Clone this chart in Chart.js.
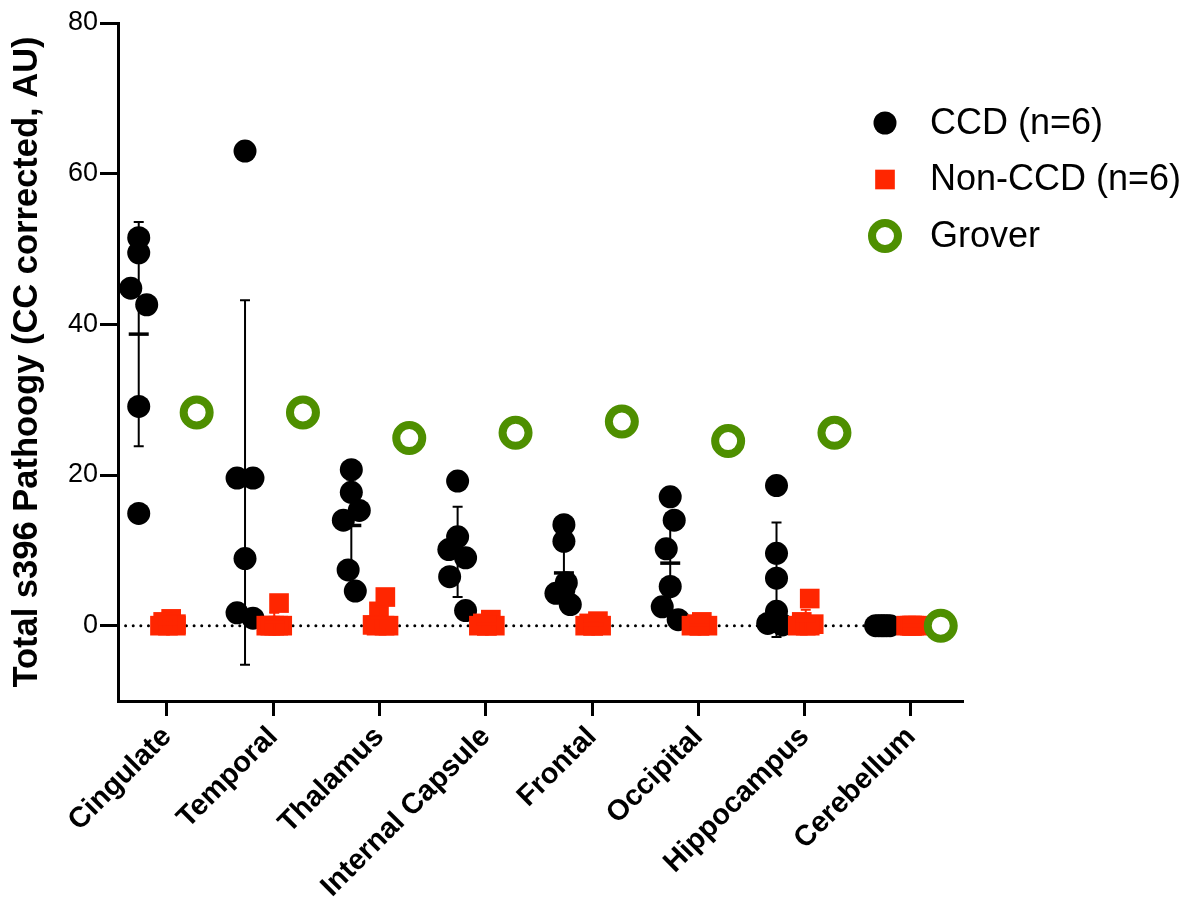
<!DOCTYPE html>
<html>
<head>
<meta charset="utf-8">
<script src="https://cdn.jsdelivr.net/npm/chart.js@4.4.1/dist/chart.umd.min.js"></script>
<style>
html,body{margin:0;padding:0;background:#fff;}
#wrap{width:1189px;height:900px;}
</style>
</head>
<body>
<div id="wrap"><canvas id="c" width="1189" height="900"></canvas></div>
<script>
// ---------------- DATA ----------------
const categories = ['Cingulate', 'Temporal', 'Thalamus', 'Internal Capsule', 'Frontal', 'Occipital', 'Hippocampus', 'Cerebellum'];

// CCD (n=6) individual values per region
const ccdValues = [
  [51.5, 49.5, 44.8, 42.6, 29.1, 14.9],
  [63.0, 19.6, 19.6, 8.9, 1.7, 1.0],
  [20.7, 17.7, 15.3, 14.0, 7.4, 4.6],
  [19.2, 11.8, 10.1, 9.0, 6.5, 2.0],
  [13.4, 11.2, 5.7, 4.8, 4.3, 2.8],
  [17.1, 14.0, 10.2, 5.2, 2.5, 0.8],
  [18.6, 9.6, 6.3, 1.9, 0.3, 0.1],
  [0, 0, 0, 0, 0, 0]
];
// CCD mean and SD (error bars) as drawn
const ccdMean = [38.7, 19.0, 13.3, 9.8, 7.0, 8.3, 6.1, 0];
const ccdSD   = [14.9, 24.2, 6.1, 6.0, 4.3, 6.6, 7.6, 0];

// Non-CCD (n=6) individual values per region
const nonValues = [
  [0.9, 0.5, 0.2, 0, 0, 0],
  [3.0, 0, 0, 0, 0, 0],
  [3.8, 1.9, 0.1, 0, 0, 0],
  [0.8, 0.3, 0, 0, 0, 0],
  [0.6, 0.3, 0, 0, 0, 0],
  [0.5, 0.2, 0, 0, 0, 0],
  [3.6, 0.5, 0.2, 0, 0, 0],
  [0, 0, 0, 0, 0, 0]
];
const nonMean = [0.3, 0.5, 1.0, 0.2, 0.15, 0.1, 0.7, 0];
const nonSD   = [0.4, 1.2, 1.5, 0.3, 0.25, 0.2, 1.4, 0];

// Grover (single case)
const groverValues = [28.3, 28.3, 24.9, 25.6, 27.1, 24.5, 25.6, 0];

const yTicks = [0, 20, 40, 60, 80];

// ---------------- LAYOUT (scatter arrangement, not data) ----------------
// horizontal spread slots of the dots inside each group (units of JITTER_STEP)
const ccdSlots = [
  [0, 0, -1, 1, 0, 0],
  [0, -1, 1, 0, -1, 1],
  [0, 0, 1, -1, -0.4, 0.5],
  [0, 0, -1.1, 1, -1, 1],
  [0, 0, 0.3, 0, -1, 0.8],
  [0, 0.5, -0.5, 0, -1, 1],
  [0, 0, 0, 0, -1.1, 0.75],
  [-0.9, -0.5, -0.15, 0.15, 0.5, 0.9]
];
const nonSlots = [
  [0.4, -0.6, 1, -1, 1, 0],
  [0.6, -1, 1, -0.5, 0.5, 0],
  [0.6, -0.2, -1, 1, -0.5, 0.5],
  [0.5, -0.5, -1, 1, 0, 0],
  [0.6, -0.5, -1, 1, 0, 0],
  [0.3, -0.3, -1, 1, 0, 0],
  [0.5, -0.5, 1, -1, 0, 0.5],
  [-0.75, -0.25, 0.25, 0.75, 0, 0]
];
const JITTER_STEP = 0.075;
const CCD_OFFSET = -0.265;
const NON_OFFSET = 0.01;
const GROVER_OFFSET = 0.28;
const X_MIN = -0.46, X_MAX = 7.48;

const BLACK = '#000000';
const RED = '#ff2600';
const GREEN = '#4e8f00';
const FONT = '"Liberation Sans", Arial, Helvetica, sans-serif';

// ---------------- build point tables ----------------
const ccdPts = [];
ccdValues.forEach((vals, i) => vals.forEach((v, k) => ccdPts.push({x: i + CCD_OFFSET + ccdSlots[i][k] * JITTER_STEP, y: v})));
const nonPts = [];
nonValues.forEach((vals, i) => vals.forEach((v, k) => nonPts.push({x: i + NON_OFFSET + nonSlots[i][k] * JITTER_STEP, y: v})));
const groverPts = groverValues.map((v, i) => ({x: i + GROVER_OFFSET, y: v}));
const zeroLine = [{x: X_MIN, y: 0}, {x: X_MAX, y: 0}];

// ---------------- plugins ----------------
const errorBarPlugin = {
  id: 'errorBars',
  afterDatasetsDraw(chart) {
    const {ctx, scales: {x, y}} = chart;
    const groups = [
      {mean: ccdMean, sd: ccdSD, off: CCD_OFFSET, color: BLACK},
      {mean: nonMean, sd: nonSD, off: NON_OFFSET, color: RED}
    ];
    ctx.save();
    groups.forEach(g => {
      g.mean.forEach((m, i) => {
        const px = x.getPixelForValue(i + g.off);
        const top = y.getPixelForValue(m + g.sd[i]);
        const bot = y.getPixelForValue(m - g.sd[i]);
        const mid = y.getPixelForValue(m);
        ctx.strokeStyle = g.color;
        ctx.lineCap = 'butt';
        ctx.lineWidth = 2;
        ctx.beginPath();
        ctx.moveTo(px, top); ctx.lineTo(px, bot);
        ctx.moveTo(px - 5, top); ctx.lineTo(px + 5, top);
        ctx.moveTo(px - 5, bot); ctx.lineTo(px + 5, bot);
        ctx.stroke();
        ctx.lineWidth = 3.5;
        ctx.beginPath();
        ctx.moveTo(px - 10, mid); ctx.lineTo(px + 10, mid);
        ctx.stroke();
      });
    });
    ctx.restore();
  }
};

function drawMarker(ctx, d, cx, cy) {
  ctx.save();
  ctx.fillStyle = d.backgroundColor;
  ctx.strokeStyle = d.borderColor || d.backgroundColor;
  ctx.lineWidth = d.borderWidth || 0;
  ctx.beginPath();
  if (d.pointStyle === 'rect') {
    const h = Math.SQRT1_2 * d.pointRadius;
    ctx.rect(cx - h, cy - h, 2 * h, 2 * h);
  } else {
    ctx.arc(cx, cy, d.pointRadius, 0, Math.PI * 2);
  }
  ctx.fill();
  if (d.borderWidth > 0) ctx.stroke();
  ctx.restore();
}

const LEGEND_MARK_X = 885, LEGEND_TEXT_X = 930, LEGEND_Y0 = 123, LEGEND_GAP = 56.5;
const sideLegendPlugin = {
  id: 'sideLegend',
  afterDraw(chart) {
    const ctx = chart.ctx;
    chart.data.datasets.filter(d => d.label).forEach((d, k) => {
      const cy = LEGEND_Y0 + k * LEGEND_GAP;
      drawMarker(ctx, d, LEGEND_MARK_X, cy);
      ctx.save();
      ctx.fillStyle = BLACK;
      ctx.font = '36px ' + FONT;
      ctx.textAlign = 'left';
      ctx.textBaseline = 'middle';
      ctx.fillText(d.label, LEGEND_TEXT_X, cy + 1);
      ctx.restore();
    });
  }
};

// ---------------- chart ----------------
new Chart(document.getElementById('c'), {
  type: 'scatter',
  data: {
    datasets: [
      {label: 'CCD (n=6)', data: ccdPts, pointStyle: 'circle', pointRadius: 11.5, pointHoverRadius: 11.5,
       backgroundColor: BLACK, borderColor: BLACK, borderWidth: 0, order: 3},
      {label: 'Non-CCD (n=6)', data: nonPts, pointStyle: 'rect', pointRadius: 13.9, pointHoverRadius: 13.9,
       backgroundColor: RED, borderColor: RED, borderWidth: 0, order: 2},
      {label: 'Grover', data: groverPts, pointStyle: 'circle', pointRadius: 13, pointHoverRadius: 13,
       backgroundColor: '#ffffff', borderColor: GREEN, borderWidth: 8, order: 1},
      {type: 'line', label: '', data: zeroLine, showLine: true, fill: false, pointRadius: 0,
       borderColor: BLACK, borderWidth: 3, borderDash: [0.01, 7.6], borderCapStyle: 'round', order: 4}
    ]
  },
  options: {
    responsive: false,
    animation: false,
    events: [],
    layout: {padding: {top: 23, right: 227, bottom: 0, left: 0}},
    plugins: {legend: {display: false}, tooltip: {enabled: false}},
    scales: {
      x: {
        type: 'linear', min: X_MIN, max: X_MAX,
        afterBuildTicks: s => { s.ticks = categories.map((c, i) => ({value: i})); },
        afterFit: s => { s.height = 199; },
        ticks: {
          autoSkip: false, maxRotation: 45, minRotation: 45, padding: 4, color: BLACK,
          font: {family: FONT, size: 29, weight: 'bold'},
          callback: v => categories[v] !== undefined ? categories[v] : ''
        },
        grid: {display: true, drawOnChartArea: false, drawTicks: true, tickLength: 15, tickWidth: 3, tickColor: BLACK, color: BLACK, lineWidth: 3},
        border: {display: true, color: BLACK, width: 3}
      },
      y: {
        type: 'linear', min: -10, max: 80,
        afterBuildTicks: s => { s.ticks = yTicks.map(v => ({value: v})); },
        afterFit: s => { s.width = 118; },
        ticks: {padding: 2, color: BLACK, font: {family: FONT, size: 27}},
        grid: {display: true, drawOnChartArea: false, drawTicks: true, tickLength: 18, tickWidth: 3, tickColor: BLACK, color: BLACK, lineWidth: 3},
        border: {display: true, color: BLACK, width: 3},
        title: {display: true, text: 'Total s396 Pathoogy (CC corrected, AU)', color: BLACK,
                font: {family: FONT, size: 34.5, weight: 'bold'}, padding: {top: 7, bottom: 0}}
      }
    }
  },
  plugins: [errorBarPlugin, sideLegendPlugin]
});
</script>
</body>
</html>
